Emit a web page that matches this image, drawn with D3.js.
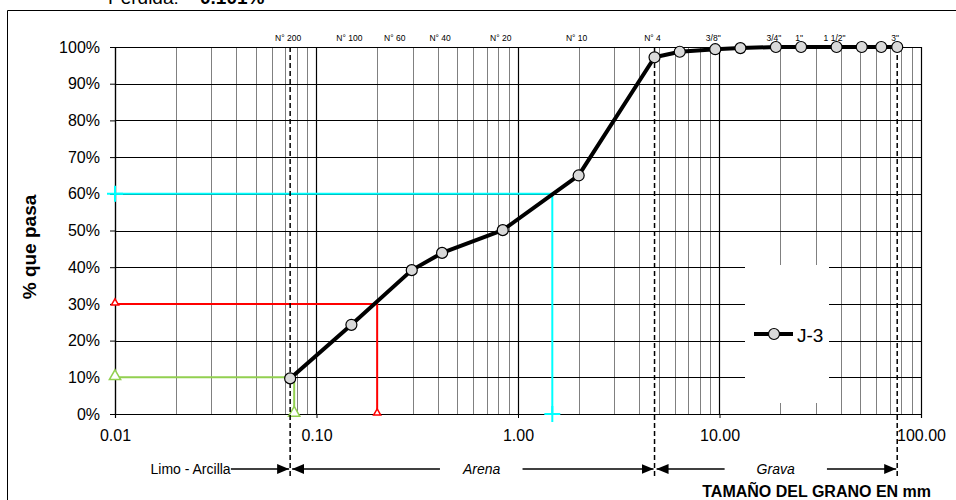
<!DOCTYPE html>
<html>
<head>
<meta charset="utf-8">
<script src="https://cdn.jsdelivr.net/npm/d3@7"></script>
<style>
  body { margin: 0; background: #fff; }
  svg { display: block; font-family: Arial, "Liberation Sans", sans-serif; }
</style>
</head>
<body>
<svg id="chart" width="956" height="500"></svg>
<script>
// grain size curve J-3 (mm, % passing)
const sieveSizes = [76.2, 63.5, 50.8, 38.1, 25.4, 19.05, 12.7, 9.525, 6.35, 4.76, 2.0, 0.84, 0.42, 0.297, 0.149, 0.074];
const percentPassing = [100, 100, 100, 100, 100, 100, 99.7, 99.4, 98.7, 97.2, 65.0, 50.1, 43.9, 39.2, 24.3, 9.7];

const sieveNames = ["N° 200", "N° 100", "N° 60", "N° 40", "N° 20", "N° 10", "N° 4", "3/8\"", "3/4\"", "1\"", "1 1/2\"", "3\""];
const sieveNameSizes = [0.074, 0.149, 0.25, 0.42, 0.84, 2.0, 4.76, 9.525, 19.05, 25.4, 38.1, 76.2];

const xTicks = [0.01, 0.1, 1, 10, 100];
const yTicks = [0, 0.1, 0.2, 0.3, 0.4, 0.5, 0.6, 0.7, 0.8, 0.9, 1.0];

// D10, D30, D60
const guidePercents = [10, 30, 60];
const guideSizes = [0.0775, 0.2, 1.48];

// soil classes
const zoneNames = ["Limo - Arcilla", "Arena", "Grava"];
const zoneBounds = [0.074, 4.76, 76.2];
const zoneLabelAt = [0.0375, 0.66, 19];

const seriesName = "J-3";
const lossLabel = "Perdida:";
const lossValue = "0.101%";

const svg = d3.select("#chart");
const x = d3.scaleLog().domain([0.01, 100]).range([115, 921]);
const y = d3.scaleLinear().domain([0, 100]).range([414, 47]);

// outer frame (left and top only visible)
svg.append("path")
  .attr("d", "M7.5,500 V10.5 H956")
  .attr("fill", "none").attr("stroke", "#000").attr("stroke-width", 1);

svg.append("text").attr("x", 108).attr("y", 4)
  .attr("font-size", 19).text(lossLabel);
svg.append("text").attr("x", 200).attr("y", 4)
  .attr("font-size", 19).attr("font-weight", "bold").text(lossValue);

// grid
const minor = [];
[0.01, 0.1, 1, 10].forEach((d) => { for (let k = 2; k <= 9; k++) minor.push(d * k); });
const grid = svg.append("g");
grid.selectAll("line.minor").data(minor).join("line")
  .attr("class", "minor")
  .attr("x1", (d) => Math.round(x(d)) + 0.5).attr("x2", (d) => Math.round(x(d)) + 0.5)
  .attr("y1", y(100)).attr("y2", y(0))
  .attr("stroke", "#808080").attr("stroke-width", 1);
grid.selectAll("line.major").data(xTicks).join("line")
  .attr("class", "major")
  .attr("x1", (d) => Math.round(x(d)) + 0.5).attr("x2", (d) => Math.round(x(d)) + 0.5)
  .attr("y1", y(100)).attr("y2", y(0))
  .attr("stroke", "#000").attr("stroke-width", 1.2);
grid.selectAll("line.h").data(yTicks).join("line")
  .attr("class", "h")
  .attr("x1", x(0.01)).attr("x2", x(100))
  .attr("y1", (d) => Math.round(y(d * 100)) + 0.5).attr("y2", (d) => Math.round(y(d * 100)) + 0.5)
  .attr("stroke", "#000").attr("stroke-width", 1);

// legend box hides the grid behind it
svg.append("rect").attr("x", 745).attr("y", 265).attr("width", 84).attr("height", 138).attr("fill", "#fff");

// axes
const yAxisG = svg.append("g").attr("transform", `translate(${x(0.01)},0)`)
  .call(d3.axisLeft(y).tickValues(yTicks.map((t) => t * 100)).tickSize(5).tickPadding(10)
    .tickFormat((d) => d + "%"));
yAxisG.selectAll("text").attr("font-size", 16).attr("fill", "#000").attr("font-family", null);
yAxisG.select(".domain").attr("stroke-width", 1.2);

const xAxisG = svg.append("g").attr("transform", `translate(0,${y(0)})`)
  .call(d3.axisBottom(x).tickValues(xTicks).tickSize(4).tickPadding(12).tickFormat(d3.format(".2f")));
xAxisG.selectAll("text").attr("font-size", 16).attr("fill", "#000").attr("font-family", null);
xAxisG.select(".domain").attr("stroke-width", 1.2);

svg.append("text")
  .attr("transform", `translate(36,247) rotate(-90)`)
  .attr("text-anchor", "middle").attr("font-size", 19).attr("font-weight", "bold")
  .text("% que pasa");

// sieve names along the top
svg.append("g").selectAll("text").data(sieveNames).join("text")
  .attr("x", (d, i) => x(sieveNameSizes[i]) - 2).attr("y", 41)
  .attr("text-anchor", "middle").attr("font-size", 8.5).text((d) => d);

// D10 / D30 / D60 guides
const guideColors = ["#92d050", "#ff0000", "#00ffff"];
const guideSymbols = [d3.symbolTriangle, d3.symbolTriangle, d3.symbolCross];
const guideSymSize = [55, 22, 0];
const guides = svg.append("g");
guidePercents.forEach((p, i) => {
  const gx = x(guideSizes[i]), gy = y(p);
  guides.append("path")
    .attr("d", `M${x(0.01)},${gy} H${gx} V${y(0)}`)
    .attr("fill", "none").attr("stroke", guideColors[i]).attr("stroke-width", 2);
  [[x(0.01), gy], [gx, y(0)]].forEach(([px, py]) => {
    if (i === 2) {
      guides.append("path").attr("d", `M${px - 8},${py} H${px + 8} M${px},${py - 8} V${py + 8}`)
        .attr("stroke", guideColors[i]).attr("stroke-width", 2);
    } else {
      guides.append("path").attr("transform", `translate(${px},${py - 1})`)
        .attr("d", d3.symbol(guideSymbols[i], guideSymSize[i])())
        .attr("fill", "#fff").attr("stroke", guideColors[i]).attr("stroke-width", 1.5);
    }
  });
});

// class boundaries (dashed)
svg.append("g").selectAll("line").data(zoneBounds).join("line")
  .attr("x1", (d) => x(d)).attr("x2", (d) => x(d))
  .attr("y1", y(100)).attr("y2", 477)
  .attr("stroke", "#000").attr("stroke-width", 1.5).attr("stroke-dasharray", "5,3");

// arrows with class names
const defs = svg.append("defs");
defs.append("marker").attr("id", "head").attr("viewBox", "0 0 12 10")
  .attr("refX", 12).attr("refY", 5).attr("markerWidth", 12).attr("markerHeight", 10)
  .attr("markerUnits", "userSpaceOnUse").attr("orient", "auto-start-reverse")
  .append("path").attr("d", "M0,0 L12,5 L0,10 Z").attr("fill", "#000");

const arrowY = 469;
const gaps = [0, 22, 32];
const zones = svg.append("g");
zoneNames.forEach((name, i) => {
  const t = zones.append("text").attr("y", arrowY + 5).attr("font-size", 14)
    .attr("font-style", i > 0 ? "italic" : null).text(name);
  t.attr("x", x(zoneLabelAt[i])).attr("text-anchor", i === 0 ? "end" : "middle");
  const bb = t.node().getBBox();
  const left = i === 0 ? null : x(zoneBounds[i - 1]) + 2;
  const right = x(zoneBounds[i]) - 1;
  if (left !== null) {
    zones.append("line").attr("x1", bb.x - gaps[i]).attr("x2", left)
      .attr("y1", arrowY).attr("y2", arrowY)
      .attr("stroke", "#000").attr("stroke-width", 1.3).attr("marker-end", "url(#head)");
  }
  zones.append("line").attr("x1", bb.x + bb.width + gaps[i]).attr("x2", right)
    .attr("y1", arrowY).attr("y2", arrowY)
    .attr("stroke", "#000").attr("stroke-width", 1.3).attr("marker-end", "url(#head)");
});

svg.append("text").attr("x", 931).attr("y", 497).attr("text-anchor", "end")
  .attr("font-size", 16).attr("font-weight", "bold").text("TAMAÑO  DEL GRANO EN mm");

// the curve
const pts = sieveSizes.map((s, i) => [s, percentPassing[i]]);
svg.append("path").datum(pts)
  .attr("d", d3.line().x((d) => x(d[0])).y((d) => y(d[1])))
  .attr("fill", "none").attr("stroke", "#000").attr("stroke-width", 4).attr("stroke-linejoin", "round");
svg.append("g").selectAll("circle").data(pts).join("circle")
  .attr("cx", (d) => x(d[0])).attr("cy", (d) => y(d[1])).attr("r", 5.5)
  .attr("fill", "#d9d9d9").attr("stroke", "#000").attr("stroke-width", 1.2);

// legend
const lg = svg.append("g").attr("transform", "translate(754,334)");
lg.append("line").attr("x1", 0).attr("x2", 39).attr("stroke", "#000").attr("stroke-width", 4);
lg.append("circle").attr("cx", 20).attr("r", 5.5)
  .attr("fill", "#d9d9d9").attr("stroke", "#000").attr("stroke-width", 1.2);
lg.append("text").attr("x", 43).attr("y", 7.5).attr("font-size", 19).text(seriesName);
</script>
</body>
</html>
